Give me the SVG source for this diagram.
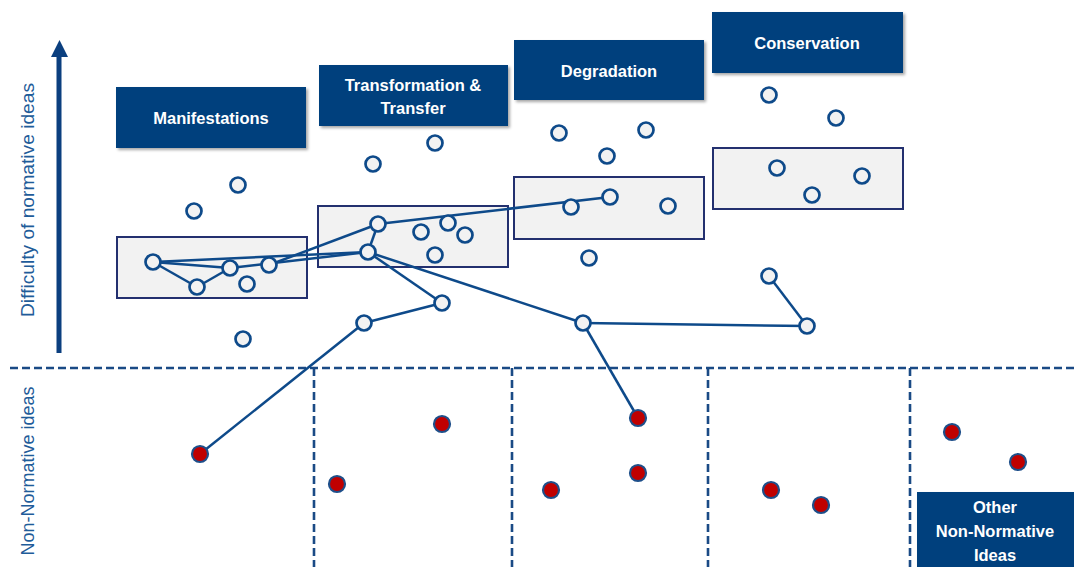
<svg xmlns="http://www.w3.org/2000/svg" width="1074" height="567" viewBox="0 0 1074 567">
<defs>
<filter id="sh" x="-10%" y="-10%" width="125%" height="130%">
<feDropShadow dx="2" dy="2" stdDeviation="1.5" flood-color="#000" flood-opacity="0.35"/>
</filter>
<style>
.hdr{fill:#053f7d;filter:url(#sh)}
.ht{font-family:"Liberation Sans",Arial,sans-serif;font-weight:bold;font-size:16.5px;fill:#fff;text-anchor:middle}
.grp{fill:#f2f2f2;stroke:#23306f;stroke-width:2}
.oc{fill:#f2f2f2;stroke:#0e4a8a;stroke-width:2.7}
.rc{fill:#c00000;stroke:#1e4f8a;stroke-width:2.2}
.ln{stroke:#0e4a8a;stroke-width:2.5;fill:none}
.dash{stroke:#1a4a85;stroke-width:2.6;stroke-dasharray:8 4;fill:none}
.side{font-family:"Liberation Sans",Arial,sans-serif;font-size:18px;fill:#1f5c99;text-anchor:middle}
</style>
</defs>
<rect width="1074" height="567" fill="#fff"/>

<!-- axis -->
<g id="axis">
<line x1="59" y1="353" x2="59" y2="55" stroke="#0b3f7f" stroke-width="5"/>
<polygon points="51,57 59.5,40 68,57" fill="#0b3f7f"/>
<text class="side" transform="translate(34,200) rotate(-90)" textLength="234" lengthAdjust="spacingAndGlyphs">Difficulty of normative ideas</text>
<text class="side" transform="translate(34,471) rotate(-90)">Non-Normative ideas</text>
</g>

<!-- dashed separators -->
<g id="separators">
<line class="dash" x1="10" y1="368" x2="1074" y2="368"/>
<line class="dash" x1="314" y1="368" x2="314" y2="567"/>
<line class="dash" x1="512" y1="368" x2="512" y2="567"/>
<line class="dash" x1="708" y1="368" x2="708" y2="567"/>
<line class="dash" x1="910" y1="368" x2="910" y2="567"/>
</g>

<!-- category headers -->
<g id="manifestations"><rect class="hdr" x="116" y="87" width="190" height="61"/><text class="ht" x="211" y="124">Manifestations</text></g>
<g id="transformation"><rect class="hdr" x="319" y="65" width="189" height="61"/><text class="ht" x="413" y="91">Transformation &amp;</text><text class="ht" x="413" y="114">Transfer</text></g>
<g id="degradation"><rect class="hdr" x="514" y="40" width="190" height="60"/><text class="ht" x="609" y="77">Degradation</text></g>
<g id="conservation"><rect class="hdr" x="712" y="12" width="191" height="61"/><text class="ht" x="807" y="49">Conservation</text></g>
<g id="other"><rect class="hdr" x="917" y="492" width="160" height="80"/><text class="ht" x="995" y="513">Other</text><text class="ht" x="995" y="537">Non-Normative</text><text class="ht" x="995" y="561">Ideas</text></g>

<!-- cluster boxes -->
<g id="clusters">
<rect class="grp" x="117" y="237" width="190" height="61"/>
<rect class="grp" x="318" y="206" width="190" height="61"/>
<rect class="grp" x="514" y="177" width="190" height="62"/>
<rect class="grp" x="713" y="148" width="190" height="61"/>
</g>

<!-- connectors -->
<g id="connectors">
<line class="ln" x1="153" y1="262" x2="368" y2="252"/>
<line class="ln" x1="153" y1="262" x2="230" y2="268"/>
<line class="ln" x1="153" y1="262" x2="197" y2="287"/>
<line class="ln" x1="197" y1="287" x2="230" y2="268"/>
<line class="ln" x1="230" y1="268" x2="368" y2="252"/>
<line class="ln" x1="269" y1="265" x2="378" y2="224"/>
<line class="ln" x1="378" y1="224" x2="368" y2="252"/>
<line class="ln" x1="378" y1="224" x2="610" y2="197"/>
<line class="ln" x1="368" y1="252" x2="442" y2="303"/>
<line class="ln" x1="368" y1="252" x2="583" y2="323"/>
<line class="ln" x1="442" y1="303" x2="364" y2="323"/>
<line class="ln" x1="364" y1="323" x2="200" y2="454"/>
<line class="ln" x1="583" y1="323" x2="807" y2="326"/>
<line class="ln" x1="583" y1="323" x2="638" y2="418"/>
<line class="ln" x1="807" y1="326" x2="769" y2="276"/>
</g>

<!-- normative ideas -->
<g id="normative">
<circle class="oc" cx="153" cy="262" r="7.5"/>
<circle class="oc" cx="197" cy="287" r="7.5"/>
<circle class="oc" cx="230" cy="268" r="7.5"/>
<circle class="oc" cx="269" cy="265" r="7.5"/>
<circle class="oc" cx="247" cy="284" r="7.5"/>
<circle class="oc" cx="194" cy="211" r="7.5"/>
<circle class="oc" cx="238" cy="185" r="7.5"/>
<circle class="oc" cx="243" cy="339" r="7.5"/>
<circle class="oc" cx="373" cy="164" r="7.5"/>
<circle class="oc" cx="435" cy="143" r="7.5"/>
<circle class="oc" cx="378" cy="224" r="7.5"/>
<circle class="oc" cx="368" cy="252" r="7.5"/>
<circle class="oc" cx="421" cy="232" r="7.5"/>
<circle class="oc" cx="448" cy="223" r="7.5"/>
<circle class="oc" cx="465" cy="235" r="7.5"/>
<circle class="oc" cx="435" cy="255" r="7.5"/>
<circle class="oc" cx="442" cy="303" r="7.5"/>
<circle class="oc" cx="364" cy="323" r="7.5"/>
<circle class="oc" cx="559" cy="133" r="7.5"/>
<circle class="oc" cx="646" cy="130" r="7.5"/>
<circle class="oc" cx="607" cy="156" r="7.5"/>
<circle class="oc" cx="610" cy="197" r="7.5"/>
<circle class="oc" cx="571" cy="207" r="7.5"/>
<circle class="oc" cx="668" cy="206" r="7.5"/>
<circle class="oc" cx="589" cy="258" r="7.5"/>
<circle class="oc" cx="583" cy="323" r="7.5"/>
<circle class="oc" cx="769" cy="95" r="7.5"/>
<circle class="oc" cx="836" cy="118" r="7.5"/>
<circle class="oc" cx="777" cy="168" r="7.5"/>
<circle class="oc" cx="862" cy="176" r="7.5"/>
<circle class="oc" cx="812" cy="195" r="7.5"/>
<circle class="oc" cx="769" cy="276" r="7.5"/>
<circle class="oc" cx="807" cy="326" r="7.5"/>
</g>

<!-- non-normative ideas -->
<g id="nonnormative">
<circle class="rc" cx="200" cy="454" r="8"/>
<circle class="rc" cx="337" cy="484" r="8"/>
<circle class="rc" cx="442" cy="424" r="8"/>
<circle class="rc" cx="638" cy="418" r="8"/>
<circle class="rc" cx="638" cy="473" r="8"/>
<circle class="rc" cx="551" cy="490" r="8"/>
<circle class="rc" cx="771" cy="490" r="8"/>
<circle class="rc" cx="821" cy="505" r="8"/>
<circle class="rc" cx="952" cy="432" r="8"/>
<circle class="rc" cx="1018" cy="462" r="8"/>
</g>
</svg>
